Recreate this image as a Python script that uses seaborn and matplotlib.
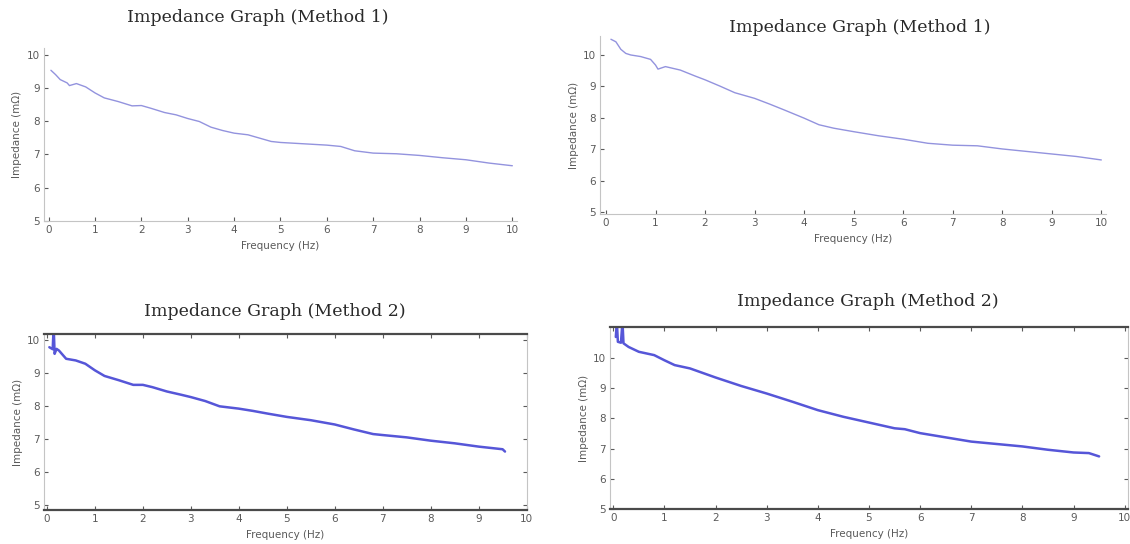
import matplotlib
matplotlib.use("Agg")
import matplotlib.pyplot as plt
import seaborn as sns
import pandas as pd

# Method 1, first measurement
freq_m1a = [0.05, 0.15, 0.25, 0.4, 0.45, 0.6, 0.8, 1.0, 1.2, 1.5, 1.8, 2.0, 2.2, 2.5, 2.75,
            3.0, 3.25, 3.5, 3.75, 4.0, 4.3, 4.5, 4.8, 5.0, 5.5, 6.0, 6.3, 6.6, 7.0, 7.5,
            8.0, 8.5, 9.0, 9.5, 10.0]
imp_m1a = [9.53, 9.40, 9.25, 9.15, 9.07, 9.13, 9.03, 8.85, 8.70, 8.59, 8.46, 8.47, 8.39, 8.26, 8.19,
           8.08, 7.99, 7.82, 7.72, 7.64, 7.59, 7.51, 7.39, 7.36, 7.32, 7.28, 7.24, 7.11, 7.04, 7.02,
           6.97, 6.90, 6.84, 6.74, 6.66]

# Method 1, second measurement
freq_m1b = [0.1, 0.2, 0.3, 0.4, 0.5, 0.7, 0.9, 1.0, 1.05, 1.2, 1.5, 1.8, 2.0, 2.3, 2.6,
            3.0, 3.3, 3.6, 4.0, 4.3, 4.6, 5.0, 5.5, 6.0, 6.5, 7.0, 7.5, 8.0, 8.5, 9.0,
            9.5, 10.0]
imp_m1b = [10.50, 10.42, 10.18, 10.05, 10.00, 9.95, 9.86, 9.68, 9.55, 9.63, 9.52, 9.33, 9.21, 9.01, 8.80,
           8.62, 8.44, 8.25, 7.99, 7.78, 7.67, 7.56, 7.43, 7.32, 7.19, 7.13, 7.11, 7.01, 6.93, 6.85,
           6.77, 6.66]

# Method 2, first measurement
freq_m2a = [0.05, 0.12, 0.14, 0.16, 0.2, 0.25, 0.4, 0.6, 0.8, 1.0, 1.2, 1.5, 1.8, 2.0, 2.2,
            2.5, 2.8, 3.0, 3.3, 3.6, 4.0, 4.3, 4.6, 5.0, 5.5, 6.0, 6.4, 6.8, 7.0, 7.5,
            8.0, 8.5, 9.0, 9.5, 9.55]
imp_m2a = [9.78, 9.72, 10.40, 9.58, 9.73, 9.68, 9.43, 9.38, 9.28, 9.08, 8.91, 8.78, 8.64, 8.64, 8.57,
           8.44, 8.34, 8.27, 8.15, 7.99, 7.92, 7.85, 7.77, 7.67, 7.57, 7.44, 7.29, 7.15, 7.12, 7.05,
           6.95, 6.87, 6.77, 6.69, 6.62]

# Method 2, second measurement
freq_m2b = [0.05, 0.07, 0.09, 0.15, 0.18, 0.2, 0.3, 0.5, 0.8, 1.0, 1.2, 1.5, 2.0, 2.5, 3.0,
            3.5, 4.0, 4.5, 5.0, 5.5, 5.7, 6.0, 6.5, 7.0, 7.5, 8.0, 8.5, 9.0, 9.3, 9.5]
imp_m2b = [10.69, 11.20, 10.53, 10.50, 11.20, 10.48, 10.36, 10.20, 10.09, 9.92, 9.76, 9.65, 9.35, 9.07, 8.82,
           8.55, 8.27, 8.05, 7.86, 7.67, 7.64, 7.51, 7.37, 7.23, 7.15, 7.07, 6.96, 6.87, 6.85, 6.74]

xticks = list(range(0, 11))
yticks = [5, 6, 7, 8, 9, 10]

TITLE_1 = "Impedance Graph (Method 1)"
TITLE_2 = "Impedance Graph (Method 2)"
XLABEL = "Frequency (Hz)"
YLABEL = "Impedance (m\u03a9)"

sns.set_theme(style="white")
plt.rcParams["font.family"] = ["DejaVu Sans"]

fig = plt.figure(figsize=(11.3, 5.44), dpi=100)

tick_col = "#5a5a5a"
light = "#c4c4c4"
dark = "#4a4a4a"


def style_axes(ax, boxed):
    ax.set_xticks(xticks)
    ax.set_yticks(yticks)
    ax.tick_params(axis="both", direction="in", length=3, width=0.8, colors=tick_col,
                   labelsize=7.5, pad=3)
    ax.set_xlabel(XLABEL, fontsize=7.5, color=tick_col, labelpad=4)
    ax.set_ylabel(YLABEL, fontsize=7.5, color=tick_col, labelpad=3)
    if boxed:
        for side in ("left", "right"):
            ax.spines[side].set_color(light)
            ax.spines[side].set_linewidth(0.8)
        for side in ("top", "bottom"):
            ax.spines[side].set_color(dark)
            ax.spines[side].set_linewidth(1.6)
        ax.tick_params(top=True, right=True, bottom=True, left=True)
    else:
        for side in ("top", "right"):
            ax.spines[side].set_visible(False)
        for side in ("left", "bottom"):
            ax.spines[side].set_color(light)
            ax.spines[side].set_linewidth(0.8)
        ax.tick_params(bottom=True, left=True)


def draw(ax, freq, imp, color, lw):
    df = pd.DataFrame({"f": freq, "z": imp})
    sns.lineplot(data=df, x="f", y="z", ax=ax, color=color, linewidth=lw,
                 sort=False, estimator=None)


ax1 = fig.add_axes([0.0389, 0.5938, 0.4186, 0.318])
draw(ax1, freq_m1a, imp_m1a, "#9393de", 1.0)
ax1.set_xlim(-0.1, 10.1)
ax1.set_ylim(5, 10.2)
style_axes(ax1, boxed=False)

ax2 = fig.add_axes([0.531, 0.6066, 0.448, 0.327])
draw(ax2, freq_m1b, imp_m1b, "#9393de", 1.0)
ax2.set_xlim(-0.12, 10.1)
ax2.set_ylim(4.94, 10.6)
style_axes(ax2, boxed=False)

ax3 = fig.add_axes([0.039, 0.0625, 0.427, 0.3235])
draw(ax3, freq_m2a, imp_m2a, "#5656d8", 1.8)
ax3.set_xlim(-0.06, 10.0)
ax3.set_ylim(4.85, 10.18)
style_axes(ax3, boxed=True)

ax4 = fig.add_axes([0.540, 0.0643, 0.458, 0.3346])
draw(ax4, freq_m2b, imp_m2b, "#5656d8", 1.8)
ax4.set_xlim(-0.06, 10.06)
ax4.set_ylim(5.0, 11.02)
style_axes(ax4, boxed=True)

title_kw = dict(family="DejaVu Serif", fontsize=12.5, color="#2a2a2a", ha="center", va="center")
fig.text(258 / 1130, 1 - 18 / 544, TITLE_1, **title_kw)
fig.text(860 / 1130, 1 - 28 / 544, TITLE_1, **title_kw)
fig.text(275 / 1130, 1 - 311 / 544, TITLE_2, **title_kw)
fig.text(868 / 1130, 1 - 302 / 544, TITLE_2, **title_kw)

fig.savefig("out.png", dpi=100, facecolor="white")
